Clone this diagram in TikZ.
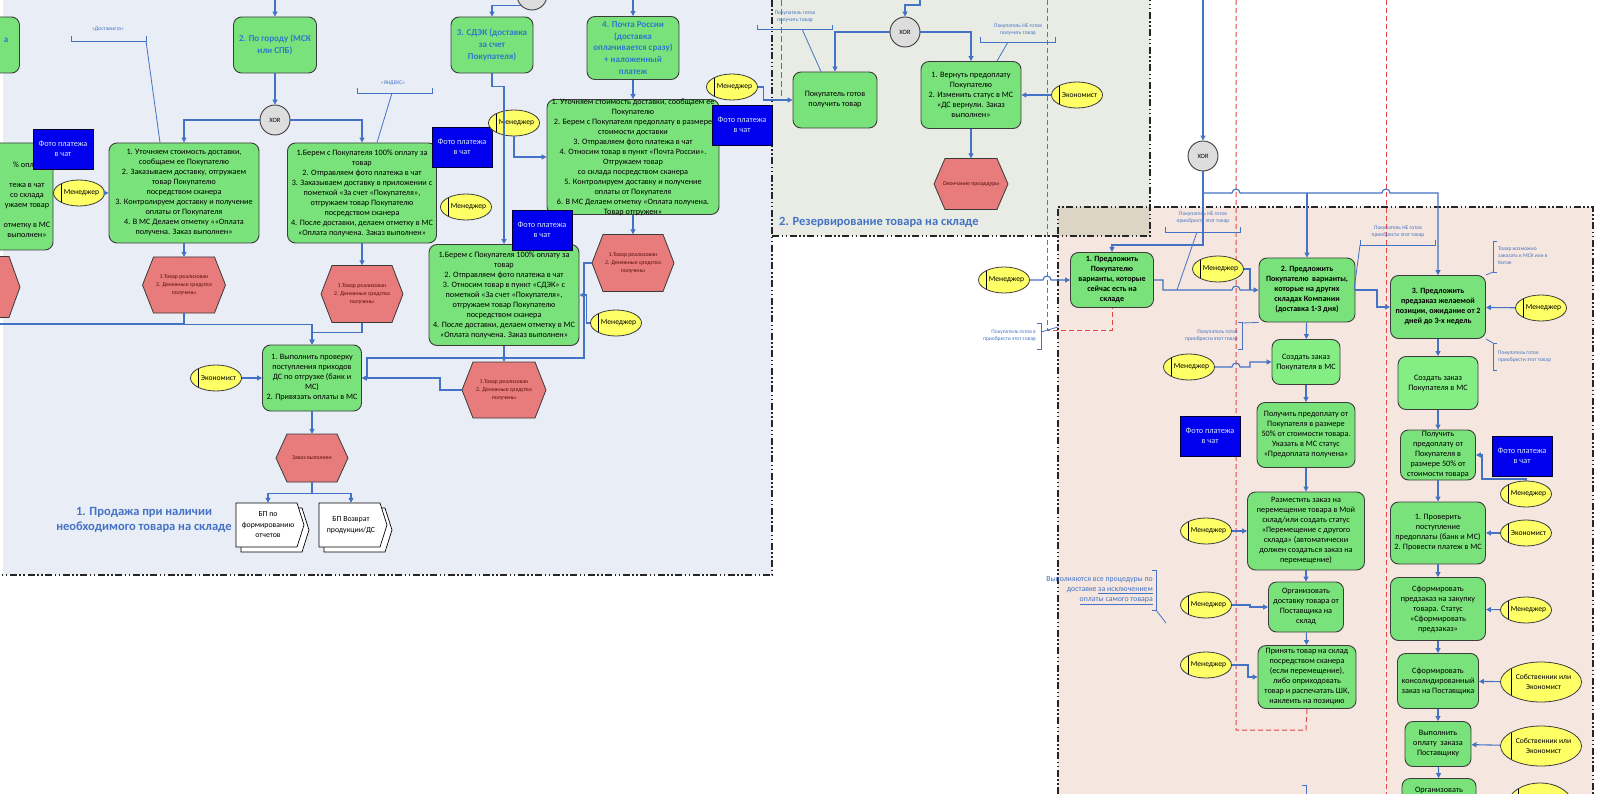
\documentclass[tikz,border=0pt]{standalone}
\usepackage{fontspec}
\setmainfont{Carlito}
\usetikzlibrary{arrows.meta,shapes.geometric,backgrounds}
\definecolor{reg1}{HTML}{E8EDF6}
\definecolor{reg2}{HTML}{E8ECE4}
\definecolor{reg3}{HTML}{F5E7DF}
\definecolor{regov}{HTML}{DCD5C6}
\definecolor{gfill}{HTML}{7AE27A}
\definecolor{gfill2}{HTML}{84EE84}
\definecolor{gdraw}{HTML}{3C3C3C}
\definecolor{cblue}{HTML}{4472C4}
\definecolor{headblue}{HTML}{2F78C8}
\definecolor{payblue}{HTML}{0000EE}
\definecolor{paytext}{HTML}{D6E4FF}
\definecolor{roley}{HTML}{FFFF66}
\definecolor{hexfill}{HTML}{E87B7B}
\definecolor{hexdraw}{HTML}{3A3A3A}
\definecolor{hextxt}{HTML}{5A1010}
\definecolor{xorfill}{HTML}{DDDDDD}
\definecolor{rdash}{HTML}{E04848}
\tikzset{
 conn/.style={draw=cblue, line width=1.1pt, -{Triangle[length=5pt,width=5pt]}},
 cline/.style={draw=cblue, line width=1.1pt},
 brk/.style={draw=cblue, line width=0.8pt},
 gbox/.style={draw=gdraw, fill=gfill, rounded corners=8pt, line width=0.9pt, align=center, inner sep=0pt, font=\fontsize{8.2}{10}\selectfont},
 gbox2/.style={gbox, fill=gfill2},
 ghead/.style={gbox, text=headblue, font=\bfseries\fontsize{9}{11.7}\selectfont},
 gbold/.style={gbox, font=\bfseries\fontsize{8}{10}\selectfont},
 boxtxt/.style={align=center, inner sep=0pt, font=\fontsize{8.2}{10}\selectfont},
 paybox/.style={draw=black!80!blue, fill=payblue, text=paytext, align=center, minimum width=60pt, minimum height=40pt, inner sep=0pt, line width=0.8pt, font=\fontsize{8.3}{10}\selectfont},
 role/.style={ellipse, draw=gdraw, fill=roley, line width=0.8pt, minimum width=51pt, minimum height=26pt, inner xsep=-8pt, inner ysep=0pt, font=\fontsize{7.6}{9.5}\selectfont, path picture={\draw[line width=0.9pt,black] ([xshift=8pt]path picture bounding box.north west) -- ([xshift=8pt]path picture bounding box.south west);}},
 owner/.style={role, minimum width=81pt, minimum height=40pt, inner xsep=-10pt, align=center, path picture={\draw[line width=0.9pt,black] ([xshift=11pt]path picture bounding box.north west) -- ([xshift=11pt]path picture bounding box.south west);}},
 xorn/.style={circle, draw=gdraw, fill=xorfill, line width=0.9pt, minimum size=30pt, inner sep=0pt, font=\fontsize{6.5}{8}\selectfont},
 hext/.style={align=center, inner sep=0pt, text=hextxt, font=\fontsize{5.8}{8.3}\selectfont},
 doctxt/.style={align=center, inner sep=0pt, font=\fontsize{7.8}{10.5}\selectfont},
 ann/.style={text=cblue, align=center, inner sep=0pt, font=\fontsize{5.5}{7}\selectfont},
 regtitle/.style={text=cblue, align=center, inner sep=0pt, font=\bfseries\fontsize{12.5}{15}\selectfont},
 regborder/.style={draw=black!85, line width=1.5pt, dash pattern=on 7pt off 2.5pt on 1.5pt off 2.5pt on 1.5pt off 2.5pt},
 reddash/.style={draw=rdash, line width=1pt, dash pattern=on 5pt off 3pt},
}
\newcommand\hexev[6]{%
 \filldraw[fill=hexfill, draw=hexdraw, line width=0.8pt] (#2-#4/2,#3) -- (#2-#4/2+11,#3-#5/2) -- (#2+#4/2-11,#3-#5/2) -- (#2+#4/2,#3) -- (#2+#4/2-11,#3+#5/2) -- (#2-#4/2+11,#3+#5/2) -- cycle;
 \node[hext, minimum width=#4, minimum height=#5] (#1) at (#2,#3) {#6};}
\newcommand\bpdoc[4]{%
 \filldraw[fill=white, draw=black, line width=0.7pt] (#2-27,#3-17) -- (#2+34,#3-17) -- (#2+41,#3+5) -- (#2+34,#3+27) -- (#2-27,#3+27) -- cycle;
 \filldraw[fill=white, draw=black, line width=0.7pt] (#2-32,#3-22) -- (#2+29,#3-22) -- (#2+36,#3) -- (#2+29,#3+22) -- (#2-32,#3+22) -- cycle;
 \node[doctxt, minimum width=64, minimum height=44] (#1) at (#2,#3) {#4};}
\newcommand\rtx[1]{\hspace*{5pt}#1}
\begin{document}
\begin{tikzpicture}[x=1pt,y=-1pt]
\useasboundingbox (0,0) rectangle (1600,794);
\clip (0,0) rectangle (1600,794);
% ---------------- Region 1 nodes
\node[ghead, minimum width=79, minimum height=56] (lbox) at (-20,45) {};
\node[text=headblue, inner sep=0pt, font=\bfseries\fontsize{9}{12}\selectfont] (ltxt) at (6,40) {а};
\node[gbox, minimum width=153, minimum height=107] (lbig) at (-23.5,196.5) {};
\node[boxtxt] (lbigt) at (27,200) {\% оплат\\~\\тежа в чат\\со склада\\ужаем товар\\~\\отметку в МС\\выполнен»};
\hexev{lhex}{-20}{287}{80}{61}{}
\node[paybox] (pay1) at (63,149) {Фото платежа\\в чат};
\node[role] (mgr1) at (79,193) {\rtx{Менеджер}};
\node[xorn] (topc) at (532,-5) {};
\node[ghead, minimum width=83, minimum height=56] (city) at (275,45) {2. По городу (МСК\\или СПБ)};
\node[ghead, minimum width=82, minimum height=56] (sdek) at (492,45) {3. СДЭК (доставка\\за счет\\Покупателя)};
\node[ghead, minimum width=92, minimum height=63] (post) at (633,48) {4. Почта России\\(доставка\\оплачивается сразу)\\+ наложенный\\платеж};
\node[xorn] (xor1) at (275,120) {XOR};
\node[gbox, minimum width=150, minimum height=100] (a1) at (184,193) {1. Уточняем стоимость доставки,\\сообщаем ее Покупателю\\2. Заказываем доставку, отгружаем\\товар Покупателю\\посредством сканера\\3. Контролируем доставку и получение\\оплаты от Покупателя\\4. В МС Делаем отметку ««Оплата\\получена. Заказ выполнен»};
\node[gbox, minimum width=149, minimum height=100] (a2) at (362,193) {1.Берем с Покупателя 100\% оплату за\\товар\\2. Отправляем фото платежа в чат\\3. Заказываем доставку в приложении с\\пометкой «За счет «Покупателя»,\\отгружаем товар Покупателю\\посредством сканера\\4. После доставки, делаем отметку в МС\\«Оплата получена. Заказ выполнен»};
\node[paybox] (pay2) at (462,147) {Фото платежа\\в чат};
\node[role] (mgr2) at (466,207) {\rtx{Менеджер}};
\node[role] (mgr3) at (514,123) {\rtx{Менеджер}};
\node[gbox, minimum width=172, minimum height=115, inner ysep=-5pt] (pbox) at (633,157) {1. Уточняем стоимость доставки, сообщаем ее\\Покупателю\\2. Берем с Покупателя предоплату в размере\\стоимости доставки\\3. Отправляем фото платежа в чат\\4. Относим товар в пункт «Почта России».\\Отгружаем товар\\со склада посредством сканера\\5. Контролируем доставку и получение\\оплаты от Покупателя\\6. В МС Делаем отметку «Оплата получена.\\Товар отгружен»};
\node[paybox] (pay3) at (742,125) {Фото платежа\\в чат};
\node[role] (mgr4) at (732,87) {\rtx{Менеджер}};
\node[gbox, minimum width=150, minimum height=101] (sbox) at (504,295) {1.Берем с Покупателя 100\% оплату за\\товар\\2. Отправляем фото платежа в чат\\3. Относим товар в пункт «СДЭК» с\\пометкой «За счет «Покупателя»,\\отгружаем товар Покупателю\\посредством сканера\\4. После доставки, делаем отметку в МС\\«Оплата получена. Заказ выполнен»};
\node[paybox] (pay4) at (542,230) {Фото платежа\\в чат};
\node[role] (mgr5) at (616,323) {\rtx{Менеджер}};
\hexev{hexA1}{184}{285}{83}{56}{1.Товар реализован\\2. Денежные средства\\получены}
\hexev{hexA2}{362}{294}{82}{57}{1.Товар реализован\\2. Денежные средства\\получены}
\hexev{hexP}{633}{263}{82}{57}{1.Товар реализован\\2. Денежные средства\\получены}
\hexev{hexS}{504}{390}{84}{56}{1.Товар реализован\\2. Денежные средства\\получены}
\node[gbox, minimum width=99, minimum height=66] (ebox) at (312,378) {1. Выполнить проверку\\поступления приходов\\ДС по отгрузке (банк и\\МС)\\2. Привязать оплаты в МС};
\node[role] (eco1) at (216,378) {\rtx{Экономист}};
\hexev{hexDone}{312}{458}{72}{48}{Заказ выполнен}
\bpdoc{doc1}{268}{525}{БП по\\формированию\\отчетов}
\bpdoc{doc2}{351}{525}{БП Возврат\\продукции/ДС}
\node[regtitle] (title1) at (144,520) {1. Продажа при наличии\\необходимого товара на складе};
\node[ann] (dost) at (108,29) {«Достависта»};
\node[ann] (yand) at (393,83) {«ЯНДЕКС»};
% ---------------- Region 2 nodes
\node[gbox, minimum width=84, minimum height=56] (ready) at (835,100) {Покупатель готов\\получить товар};
\node[xorn] (xor2) at (905,32) {XOR};
\node[gbox, minimum width=100, minimum height=67] (refund) at (971,95) {1. Вернуть предоплату\\Покупателю\\2. Изменить статус в МС\\«ДС вернули. Заказ\\выполнен»};
\node[role] (eco2) at (1077,95) {\rtx{Экономист}};
\hexev{hexEnd}{971}{184}{74}{51}{Окончание процедуры}
\node[ann] (annr1) at (795,17) {Покупатель готов\\получить товар};
\node[ann] (annr2) at (1018,30) {Покупатель НЕ готов\\получить товар};
\node[regtitle, anchor=west] (title2) at (779,222) {2. Резервирование товара на складе};
% ---------------- Region 3 nodes
\node[xorn] (xor3) at (1203,156) {XOR};
\node[gbold, minimum width=83, minimum height=55] (b1) at (1112,280) {1. Предложить\\Покупателю\\варианты, которые\\сейчас есть на\\складе};
\node[role] (mgr6) at (1004,280) {\rtx{Менеджер}};
\node[gbold, minimum width=96, minimum height=64] (b2) at (1307,290) {2. Предложить\\Покупателю~ варианты,\\которые на других\\складах Компании\\(доставка 1-3 дня)};
\node[role] (mgr7) at (1218,269) {\rtx{Менеджер}};
\node[gbox2, minimum width=68, minimum height=45] (b2a) at (1306,362) {Создать заказ\\Покупателя в МС};
\node[role] (mgr8) at (1189,367) {\rtx{Менеджер}};
\node[paybox] (pay5) at (1210,436) {Фото платежа\\в чат};
\node[gbox, minimum width=98, minimum height=65] (b2b) at (1306,435) {Получить предоплату от\\Покупателя в размере\\50\% от стоимости товара.\\Указать в МС статус\\«Предоплата получена»};
\node[gbox, minimum width=117, minimum height=78] (b2c) at (1306,531) {Разместить заказ на\\перемещение товара в Мой\\склад/или создать статус\\«Перемещение с другого\\склада» (автоматически\\должен создаться заказ на\\перемещение)};
\node[role] (mgr9) at (1206,531) {\rtx{Менеджер}};
\node[gbox, minimum width=75, minimum height=50] (b2d) at (1306,607) {Организовать\\доставку товара от\\Поставщика на\\склад};
\node[role] (mgr10) at (1206,605) {\rtx{Менеджер}};
\node[gbox, minimum width=98, minimum height=63] (b2e) at (1307,677) {Принять товар на склад\\посредством сканера\\(если перемещение),\\либо оприходовать\\товар и распечатать ШК,\\наклеить на позицию};
\node[role] (mgr11) at (1206,665) {\rtx{Менеджер}};
\node[gbold, minimum width=95, minimum height=63] (b3) at (1438,307) {3. Предложить\\предзаказ желаемой\\позиции, ожидание от 2\\дней до 3-х недель};
\node[role] (mgr12) at (1541,308) {\rtx{Менеджер}};
\node[gbox2, minimum width=80, minimum height=53] (b3a) at (1438,383) {Создать заказ\\Покупателя в МС};
\node[gbox, minimum width=75, minimum height=50, inner ysep=-3pt] (b3b) at (1438,455) {Получить\\предоплату от\\Покупателя в\\размере 50\% от\\стоимости товара};
\node[paybox] (pay6) at (1522,456) {Фото платежа\\в чат};
\node[role] (mgr13) at (1526,494) {\rtx{Менеджер}};
\node[gbox, minimum width=95, minimum height=62] (b3c) at (1438,533) {1. Проверить\\поступление\\предоплаты (банк и МС)\\2. Провести платеж в МС};
\node[role] (eco3) at (1526,533) {\rtx{Экономист}};
\node[gbox, minimum width=95, minimum height=63] (b3d) at (1438,609) {Сформировать\\предзаказ на закупку\\товара. Статус\\«Сформировать\\предзаказ»};
\node[role] (mgr14) at (1526,610) {\rtx{Менеджер}};
\node[gbox, minimum width=81, minimum height=55] (b3e) at (1438,681) {Сформировать\\консолидированный\\заказ на Поставщика};
\node[owner] (own1) at (1541,682) {\rtx{Собственник или}\\\rtx{Экономист}};
\node[gbox, minimum width=66, minimum height=45] (b3f) at (1438,744) {Выполнить\\оплату~ заказа\\Поставщику};
\node[owner] (own2) at (1541,746) {\rtx{Собственник или}\\\rtx{Экономист}};
\node[gbox, minimum width=74, minimum height=45] (b3g) at (1439,801) {};
\node[boxtxt] (b3gt) at (1439,790) {Организовать};
\node[owner, minimum width=65pt, minimum height=44pt] (own3) at (1540,805) {};
\node[ann] (ann3a) at (1203,218) {Покупатель НЕ готов\\приобрести этот товар};
\node[ann, align=right, anchor=east] (ann3b) at (1036,336) {Покупатель готов в\\приобрести этот товар};
\node[ann, align=right, anchor=east] (ann3c) at (1238,336) {Покупатель готов\\приобрести этот товар};
\node[ann] (ann3d) at (1398,232) {Покупатель НЕ готов\\приобрести этот товар};
\node[ann, align=left, anchor=west] (ann3e) at (1498,256) {Товар возможно\\заказать в МСК или в\\Китае};
\node[ann, align=left, anchor=west] (ann3f) at (1498,357) {Покупатель готов\\приобрести этот товар};
\node[text=cblue, align=right, anchor=east, inner sep=0pt, font=\fontsize{7.8}{10}\selectfont] (ann3g) at (1153,591) {Выполняются все процедуры по\\доставке \underline{за исключением}\\\underline{оплаты самого товара}};
% ---------------- background: regions and red dashed lines
\begin{pgfonlayer}{background}
\fill[reg1] (0,0) rectangle (772,575);
\fill[white] (0,0) rectangle (3,575);
\fill[reg2] (772,0) rectangle (1150,236);
\fill[reg3] (1058,207) rectangle (1593,794);
\fill[regov] (1058,207) rectangle (1150,236);
\draw[regborder] (772,0) -- (772,575) -- (0,575);
\draw[regborder] (772,236) -- (1150,236) -- (1150,0);
\draw[regborder] (1058,794) -- (1058,207) -- (1593,207) -- (1593,794);
\draw[reddash] (1047,0) -- (1047,330) -- (1112,330) -- (b1.south);
\draw[reddash] (1236,0) -- (1236,730) -- (1306,730) -- (b2e.south);
\draw[reddash] (1386,0) -- (1386,794);
\draw[draw=cblue, line width=1pt, dash pattern=on 6pt off 3pt] (781,0) -- (781,100);
\end{pgfonlayer}
% ---------------- connectors, region 1
\coordinate (cityin) at (275,0);
\coordinate (postin) at (633,0);
\draw[conn] (cityin) -- (city);
\draw[conn] (postin) -- (post);
\draw[conn] (topc.south west) -| (sdek.north);
\draw[conn] (city) -- (xor1);
\draw[conn] (xor1.west) -| (a1.north);
\draw[conn] (xor1.east) -| (a2.north);
\draw[conn] (mgr1) -- (a1);
\draw[conn] (a1) -- (hexA1);
\draw[conn] (a2) -- (hexA2);
\draw[conn] (sdek.south) -- ++(0,13) -| (sbox.north);
\draw[conn] (post) -- (pbox);
\draw[conn] (mgr3.south) |- (pbox.west);
\draw[conn] (mgr4.east) -- ++(6,0) |- (ready.west);
\draw[conn] (pbox) -- (hexP);
\draw[conn] (sbox) -- (hexS);
\draw[conn] (mgr5.west) -- ++(-4,0) |- (sbox.east);
\draw[conn] (hexP.west) -| (584,358) -| (367,378) -- (ebox.east);
\draw[conn] (hexS.west) -- (440,390) |- (ebox.east);
\draw[conn] (hexA1.south) -- ++(0,11) -| (ebox.north);
\draw[cline] (lhex.south) |- (184,324);
\draw[conn] (hexA2.south) -- ++(0,10) -| (ebox.north);
\draw[conn] (eco1) -- (ebox);
\draw[conn] (ebox) -- (hexDone);
\draw[conn] (hexDone.south) -- ++(0,11) -| (doc1.north);
\draw[conn] (hexDone.south) -- ++(0,11) -| (doc2.north);
\draw[brk] (71,36) -- (71,41) -- (146,41) -- (146,36);
\draw[brk] (146,41) -- (a1.north -| 160,0);
\draw[brk] (357,88) -- (357,93) -- (432,93) -- (432,88);
\draw[brk] (392,93) -- (a2.north -| 377,0);
% ---------------- connectors, region 2
\coordinate (xor2in) at (920,0);
\draw[conn] (xor2in) -- (920,5) -| (xor2.north);
\draw[conn] (xor2.west) -| (ready.north);
\draw[conn] (xor2.east) -| (refund.north);
\draw[conn] (eco2) -- (refund);
\draw[conn] (refund) -- (hexEnd);
\draw[brk] (757,25) -- (757,29) -- (832,29) -- (832,25);
\draw[brk] (802,29) -- (ready.north -| 821,0);
\draw[brk] (980,37) -- (980,42) -- (1055,42) -- (1055,37);
\draw[brk] (1008,42) -- (refund.north -| 997,0);
% ---------------- connectors, region 3
\coordinate (xor3in) at (1203,0);
\coordinate (j2) at (1307,193);
\draw[conn] (xor3in) -- (xor3);
\draw[conn] (xor3.south) -- (1203,245) -| (b1.north);
\draw[conn] (xor3.south) -- (1203,193) -- (1232,193) arc[start angle=180,end angle=360,radius=4] -- (1382,193) arc[start angle=180,end angle=360,radius=4] -- (1438,193) -- (b3.north);
\draw[conn] (j2) -- (b2.north);
\draw[conn] (mgr6.east) -- (1043,280) arc[start angle=180,end angle=360,radius=4] -- (b1.west);
\draw[conn] (b1.east) -- (1163,280) -- (1163,290) -- (1232,290) arc[start angle=180,end angle=360,radius=4] -- (b2.west);
\draw[cline] (mgr7.east) -| (1250,290);
\draw[conn] (b2) -- (b2a);
\draw[conn] (b2a) -- (b2b);
\draw[conn] (b2b) -- (b2c);
\draw[conn] (b2c) -- (b2d);
\draw[conn] (b2d) -- (b2e);
\draw[conn] (mgr8.east) -- (1232,367) arc[start angle=180,end angle=360,radius=4] -- (1250,367) -- (1250,362) -- (b2a.west);
\draw[conn] (mgr9) -- (b2c);
\draw[conn] (mgr10.east) -- (1250,605) -- (1250,607) -- (b2d.west);
\draw[conn] (mgr11.east) -- (1248,665) |- (b2e.west);
\draw[conn] (b2.east) -- (1377,290) |- (b3.west);
\draw[conn] (mgr12) -- (b3);
\draw[conn] (b3) -- (b3a);
\draw[conn] (b3a) -- (b3b);
\draw[conn] (b3b) -- (b3c);
\draw[conn] (b3c) -- (b3d);
\draw[conn] (b3d) -- (b3e);
\draw[conn] (b3e) -- (b3f);
\draw[conn] (b3f) -- (b3g);
\draw[conn] (mgr13.north) -- (1526,479) -- (1482,479) -- (1482,455) -- (b3b.east);
\draw[conn] (eco3) -- (b3c);
\draw[conn] (mgr14) -- (b3d);
\draw[conn] (own1) -- (b3e);
\draw[conn] (own2) -- (b3f);
\draw[brk] (1165,227) -- (1165,232) -- (1240,232) -- (1240,227);
\draw[brk] (1197,232) -- (1177,290);
\draw[brk] (1037,323) -- (1041,323) -- (1041,349) -- (1037,349);
\draw[brk] (1041,332) -- (1058,327);
\draw[brk] (1238,322) -- (1242,322) -- (1242,349) -- (1238,349);
\draw[brk] (1242,323) -- (b2.south west);
\draw[brk] (1360,240) -- (1360,245) -- (1435,245) -- (1435,240);
\draw[brk] (1360,245) -- (1354,290);
\draw[brk] (1497,241) -- (1493,241) -- (1493,272) -- (1497,272);
\draw[brk] (1493,272) -- (b3.north east);
\draw[brk] (1497,343) -- (1493,343) -- (1493,370) -- (1497,370);
\draw[brk] (1493,343) -- (b3.south east);
\draw[brk] (1152,570) -- (1156,570) -- (1156,610) -- (1152,610);
\draw[brk] (1156,610) -- (1166,623);
\draw[brk] (1302,785) -- (1306,785) -- (1306,794);
\end{tikzpicture}
\end{document}
